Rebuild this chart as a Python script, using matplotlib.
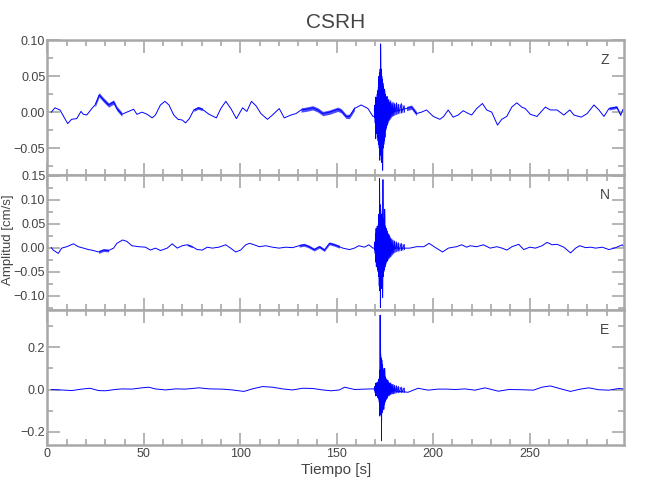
import numpy as np
import matplotlib
matplotlib.use("Agg")
import matplotlib.pyplot as plt
from matplotlib.ticker import MultipleLocator

plt.rcParams["font.family"] = ["Liberation Sans", "DejaVu Sans"]

# ---- background trace (time [s], amplitude [cm/s]) ----
z_t = [2, 3.9, 6.5, 10.5, 12.5, 15.2, 17.4, 18.6, 20.4, 23.0, 24.7, 26.8, 29.1, 31.7,
       34.3, 36.0, 38.6, 41.2, 44.7, 46.4, 49.0, 51.7, 54.3, 56.0, 58.6, 60.9, 63.0,
       65.5, 67.7, 69.9, 71.6, 73.6, 75.9, 78.2, 80.3, 83.8, 87.6, 89.9, 92.5, 95.1,
       98.0, 101.2, 103.4, 105.8, 108.1, 110.7, 114.1, 116.7, 120.2, 122.8, 126.3,
       128.9, 131.5, 134.1, 137.6, 140.2, 142.8, 146.3, 150.6, 152.3, 154.9, 156.6,
       159.2, 162.7, 166.2, 168.8, 186.2, 188.8, 191.4, 194.0, 196.6, 200.1, 203.5,
       205.5, 207.8, 210.4, 213.0, 215.6, 218.3, 220.0, 222.6, 225.6, 227.8, 230.4,
       233.4, 235.6, 238.2, 240.8, 243.4, 246.0, 247.8, 250.4, 253.9, 256.5, 258.2,
       260.8, 264.3, 267.8, 270.9, 273.0, 276.8, 279.9, 283.4, 286.0, 288.6, 291.2,
       295.2, 297.3, 298.5]
z_v = [0.0, 0.006, 0.003, -0.016, -0.01, -0.009, 0.001, -0.003, -0.004, 0.005, 0.01,
       0.024, 0.017, 0.01, 0.014, 0.005, -0.003, 0.0, 0.004, -0.003, 0.0, -0.003, -0.008,
       -0.004, 0.01, 0.015, 0.01, -0.004, -0.01, -0.011, -0.015, -0.009, 0.003, 0.006,
       0.004, -0.003, -0.008, 0.005, 0.015, 0.005, -0.009, 0.006, 0.001, 0.015, 0.009,
       -0.002, -0.01, -0.004, 0.005, -0.008, -0.004, -0.002, 0.003, 0.004, 0.006, 0.003,
       -0.002, 0.0, 0.004, 0.002, -0.006, -0.006, 0.005, 0.01, 0.005, -0.006, 0.005,
       0.007, -0.002, 0.0, 0.003, -0.006, -0.01, -0.006, 0.003, -0.007, -0.004, 0.002,
       -0.002, -0.004, 0.005, 0.012, 0.003, 0.0, -0.018, -0.01, -0.006, 0.007, 0.013,
       0.007, 0.005, -0.003, -0.006, 0.002, 0.007, 0.003, 0.003, -0.004, 0.003, -0.004,
       -0.007, -0.002, 0.01, 0.003, -0.006, 0.005, 0.007, -0.004, 0.004]

n_t = [2, 3.0, 5.6, 7.4, 10.0, 13.5, 16.0, 18.7, 21.3, 23.9, 26.5, 29.1, 31.7, 34.3,
       36.0, 39.0, 41.2, 43.8, 47.3, 50.8, 53.4, 56.0, 58.6, 62.1, 64.7, 67.3, 69.9,
       72.5, 75.1, 77.7, 80.3, 82.9, 85.5, 88.9, 92.4, 95.0, 97.6, 100.2, 102.8, 104.9,
       107.2, 109.8, 113.2, 116.7, 120.1, 123.6, 127.1, 130.5, 133.1, 135.7, 138.3,
       141.0, 143.6, 146.2, 148.8, 151.4, 153.2, 156.6, 159.2, 161.5, 164.4, 166.7,
       168.8, 187.9, 191.4, 195.2, 197.9, 200.9, 204.9, 207.9, 210.5, 212.2, 214.8,
       217.4, 219.2, 222.6, 226.1, 229.6, 233.1, 235.7, 238.3, 240.9, 244.4, 247.0,
       250.1, 253.1, 256.5, 259.1, 261.7, 264.3, 267.8, 271.3, 273.9, 276.1, 279.1,
       281.7, 284.3, 287.7, 291.2, 294.7, 298.1, 299.5]
n_v = [0.0, -0.005, -0.012, -0.001, 0.002, 0.008, 0.002, -0.001, -0.004, -0.006, -0.009,
       -0.005, -0.006, -0.001, 0.009, 0.016, 0.013, 0.004, 0.002, 0.001, -0.005, -0.001,
       -0.006, -0.001, 0.008, -0.001, 0.004, 0.006, 0.002, -0.004, -0.005, 0.001, -0.001,
       0.001, 0.006, -0.001, -0.009, -0.005, 0.006, 0.009, 0.006, 0.002, 0.004, 0.001,
       -0.001, 0.001, 0.0, 0.004, 0.006, 0.002, -0.004, 0.002, -0.005, 0.009, 0.006,
       0.002, -0.001, -0.004, -0.001, 0.004, 0.001, 0.006, -0.001, -0.001, 0.002, 0.002,
       0.009, 0.001, -0.009, -0.001, 0.001, 0.002, 0.006, 0.001, 0.004, 0.002, 0.006,
       -0.001, 0.002, -0.001, -0.005, 0.002, 0.007, -0.004, 0.001, -0.001, 0.004, 0.011,
       0.006, 0.007, 0.001, -0.011, -0.001, 0.004, 0.0, 0.001, -0.001, 0.001, -0.004,
       0.0, 0.006, 0.0]

e_t = [2, 7, 12.6, 17.8, 22.1, 26.5, 29.9, 35.1, 38.6, 43.8, 49.0, 52.5, 55.9, 61.2,
       66.4, 71.6, 78.6, 83.8, 90.7, 95.9, 101.9, 106.3, 111.5, 116.7, 121.9, 127.1,
       132.3, 137.5, 142.8, 147.1, 151.4, 154.1, 159.3, 164.5, 168.8, 187.0, 192.2,
       197.4, 202.6, 207.0, 211.3, 216.5, 221.7, 226.9, 233.9, 239.1, 246.0, 252.1,
       256.4, 260.8, 265.1, 271.2, 276.4, 280.7, 285.9, 291.2, 296.4, 299.5]
e_v = [0.0, -0.002, -0.005, 0.002, 0.006, -0.005, -0.006, 0.0, 0.003, 0.002, 0.008,
       0.011, 0.003, -0.002, 0.003, 0.002, 0.008, 0.003, 0.002, -0.002, -0.009, 0.003,
       0.014, 0.011, 0.003, -0.002, 0.006, 0.005, -0.002, -0.006, -0.002, 0.011, 0.0,
       0.002, 0.003, -0.013, 0.006, -0.003, 0.002, 0.002, 0.0, 0.003, -0.003, 0.008,
       -0.008, 0.0, -0.001, -0.003, 0.011, 0.017, 0.006, -0.009, 0.002, 0.008, -0.001,
       -0.003, 0.005, 0.002]

# ---- strong-motion burst: upper / lower envelope of the oscillation ----
burst_t = [169.5, 169.8, 170.1, 170.4, 170.7, 171.0, 171.3, 171.6, 171.9, 172.2, 172.5,
           172.8, 173.1, 173.4, 173.7, 174.0, 174.3, 174.6, 174.9, 175.3, 175.7, 176.1,
           176.5, 177.0, 177.5, 178.0, 178.6, 179.2, 180.0, 181.0, 182.0, 183.5, 185.0]
z_up = [0.004, 0.01, 0.021, 0.015, 0.02, 0.025, 0.03, 0.035, 0.05, 0.055, 0.06, 0.095,
        0.06, 0.05, 0.045, 0.04, 0.035, 0.032, 0.03, 0.025, 0.02, 0.022, 0.016, 0.018,
        0.014, 0.016, 0.012, 0.014, 0.012, 0.013, 0.011, 0.012, 0.009]
z_lo = [-0.008, -0.015, -0.037, -0.025, -0.03, -0.035, -0.04, -0.045, -0.05, -0.067,
        -0.055, -0.06, -0.07, -0.06, -0.081, -0.05, -0.045, -0.04, -0.035, -0.025, -0.022,
        -0.018, -0.015, -0.012, -0.01, -0.008, -0.006, -0.005, -0.004, -0.003, -0.002,
        -0.001, 0.0]
n_up = [0.004, 0.012, 0.03, 0.04, 0.035, 0.045, 0.04, 0.05, 0.07, 0.144, 0.09, 0.08,
        0.07, 0.06, 0.07, 0.142, 0.06, 0.05, 0.08, 0.045, 0.04, 0.035, 0.03, 0.028, 0.025,
        0.02, 0.018, 0.015, 0.014, 0.012, 0.01, 0.009, 0.007]
n_lo = [-0.005, -0.012, -0.03, -0.04, -0.035, -0.045, -0.05, -0.06, -0.08, -0.09, -0.125,
        -0.08, -0.085, -0.07, -0.104, -0.06, -0.05, -0.045, -0.04, -0.035, -0.03, -0.028,
        -0.025, -0.022, -0.02, -0.018, -0.015, -0.012, -0.01, -0.008, -0.007, -0.006,
        -0.004]
e_up = [0.006, 0.015, 0.03, 0.025, 0.03, 0.035, 0.03, 0.04, 0.05, 0.09, 0.353, 0.17, 0.15,
        0.14, 0.12, 0.1, 0.09, 0.07, 0.1, 0.06, 0.05, 0.04, 0.045, 0.035, 0.03, 0.032,
        0.025, 0.025, 0.02, 0.018, 0.015, 0.012, 0.008]
e_lo = [-0.005, -0.015, -0.03, -0.025, -0.03, -0.035, -0.04, -0.045, -0.06, -0.126, -0.1,
        -0.12, -0.243, -0.11, -0.1, -0.09, -0.094, -0.07, -0.06, -0.05, -0.045, -0.04,
        -0.03, -0.03, -0.025, -0.022, -0.02, -0.02, -0.018, -0.015, -0.015, -0.014, -0.013]

# windows where the trace carries visible high-frequency noise: (start, end, half width)
z_noise = [(24, 40, 0.003), (75, 82, 0.002), (131, 160, 0.003), (186, 192, 0.003), (290, 298, 0.002)]
n_noise = [(25, 33, 0.003), (72, 76, 0.002), (130, 152, 0.003), (186, 190, 0.002)]
e_noise = [(28, 34, 0.004), (135, 142, 0.005)]

components = ["Z", "N", "E"]
ylims = [(-0.0875, 0.1004), (-0.13, 0.1515), (-0.263, 0.377)]
majors = [0.05, 0.05, 0.2]
minors = [0.025, 0.025, 0.1]

BLUE = "#0000ff"
AXC = "#a8a8a8"
TXT = "#444444"

fig = plt.figure(figsize=(6.5, 5.0), dpi=100)
left, right, top, bottom = 0.073, 0.96, 0.92, 0.11
h = (top - bottom) / 3
traces = [(z_t, z_v, z_up, z_lo, z_noise), (n_t, n_v, n_up, n_lo, n_noise),
          (e_t, e_v, e_up, e_lo, e_noise)]
axes = []
for i, (tt, vv, up, lo, noise) in enumerate(traces):
    ax = fig.add_axes([left, top - (i + 1) * h, right - left, h])
    axes.append(ax)
    tt = np.asarray(tt)
    vv = np.asarray(vv)
    ax.plot(tt, vv, color=BLUE, lw=0.7)
    for a, b, w in noise:
        m = (tt >= a) & (tt <= b)
        ax.fill_between(tt, vv - w, vv + w, where=m, color=BLUE, alpha=0.7, lw=0)
    bt = np.asarray(burst_t)
    ax.fill_between(bt, lo, up, color=BLUE, alpha=0.35, lw=0)
    zx = np.column_stack([bt, bt + 0.15]).ravel()
    zy = np.column_stack([up, lo]).ravel()
    ax.plot(zx, zy, color=BLUE, lw=0.6)

    ax.set_xlim(0, 299)
    ax.set_ylim(*ylims[i])
    ax.xaxis.set_major_locator(MultipleLocator(50))
    ax.xaxis.set_minor_locator(MultipleLocator(10))
    ax.yaxis.set_major_locator(MultipleLocator(majors[i]))
    ax.yaxis.set_minor_locator(MultipleLocator(minors[i]))
    ax.tick_params(which="both", direction="in", top=True, right=True, color=AXC,
                   labelcolor=TXT, labelsize=9, width=1.2)
    ax.tick_params(which="major", length=9)
    ax.tick_params(which="minor", length=4.5)
    ax.tick_params(axis="y", pad=1.5)
    ax.tick_params(axis="x", pad=2)
    for s in ax.spines.values():
        s.set_color(AXC)
        s.set_linewidth(1.8)
    if i < 2:
        ax.tick_params(labelbottom=False)
    ax.text(0.967, 0.85, components[i], transform=ax.transAxes, ha="center",
            va="center", fontsize=10, color=TXT)

fmt = [lambda v, p: f"{v:.2f}".replace("-", "\u2212"),
       lambda v, p: f"{v:.2f}".replace("-", "\u2212"),
       lambda v, p: f"{v:.1f}".replace("-", "\u2212")]
for ax, f in zip(axes, fmt):
    ax.yaxis.set_major_formatter(plt.FuncFormatter(f))

fig.text(0.517, 0.956, "CSRH", ha="center", va="center", fontsize=15, color=TXT)
fig.text(0.517, 0.060, "Tiempo [s]", ha="center", va="center", fontsize=11, color=TXT)
fig.text(0.013, 0.52, "Amplitud [cm/s]", ha="center", va="center", rotation=90,
         fontsize=9.5, color=TXT)

fig.savefig("out.png", dpi=100)
